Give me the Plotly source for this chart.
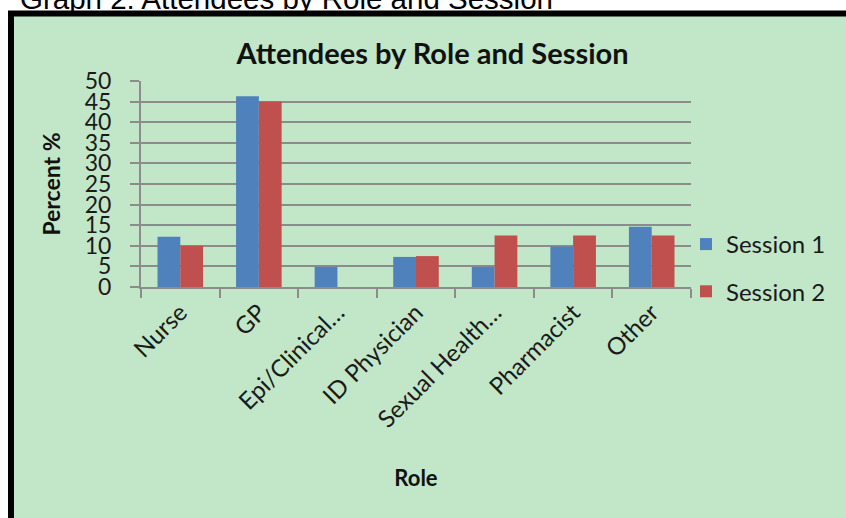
import plotly.graph_objects as go

roles = ["Nurse", "GP", "Epi/Clinical…", "ID Physician", "Sexual Health…", "Pharmacist", "Other"]
session1 = [12.2, 46.3, 4.9, 7.3, 4.9, 9.8, 14.6]
session2 = [10.0, 45.0, 0.0, 7.5, 12.5, 12.5, 12.5]
y_ticks = [0, 5, 10, 15, 20, 25, 30, 35, 40, 45, 50]

FONT = "Lato"
W, H = 846, 518
ML, MR, MT, MB = 141, 155, 81, 231
pw = W - ML - MR
ph = H - MT - MB

def px2x(p):
    return (p - ML) / pw

def px2y(p):
    return (H - MB - p) / ph

fig = go.Figure()
fig.add_trace(go.Bar(x=roles, y=session1, name="Session 1", legendgroup="a",
                     marker=dict(color="#4F81BD", line=dict(width=0))))
fig.add_trace(go.Bar(x=roles, y=session2, name="Session 2", legendgroup="b",
                     marker=dict(color="#C0504D", line=dict(width=0))))

fig.update_layout(
    width=W, height=H,
    margin=dict(l=ML, r=MR, t=MT, b=MB, autoexpand=False),
    paper_bgcolor="white",
    plot_bgcolor="rgba(0,0,0,0)",
    barmode="group",
    bargap=0.42,
    bargroupgap=0,
    font=dict(family=FONT, size=22, color="#1a1a1a"),
    title=dict(text="<b>Attendees by Role and Session</b>", x=432.5 / W, xanchor="center",
               y=1 - 54 / H, yanchor="middle", font=dict(family=FONT, size=29, color="#111")),
    legend=dict(x=px2x(686), xanchor="left", y=px2y(222), yanchor="top",
                font=dict(family=FONT, size=24, color="#1a1a1a"),
                bgcolor="rgba(0,0,0,0)", tracegroupgap=13, itemwidth=30),
    showlegend=True,
)

fig.update_xaxes(
    showline=True, linecolor="#8C8C8C", linewidth=2,
    ticks="outside", ticklen=9, tickcolor="#8C8C8C", tickwidth=2,
    tickson="boundaries", tickangle=-45,
    tickfont=dict(family=FONT, size=24, color="#1a1a1a"),
    title=dict(text="<b>Role</b>", font=dict(family=FONT, size=22, color="#111"), standoff=39),
    showgrid=False,
)
fig.update_yaxes(
    range=[0, 50], tickvals=y_ticks, ticktext=[str(v) for v in y_ticks],
    showline=True, linecolor="#8C8C8C", linewidth=2,
    ticks="outside", ticklen=9, tickcolor="#8C8C8C", tickwidth=2,
    showgrid=True, gridcolor="#8C8C8C", gridwidth=2, zeroline=False,
    tickfont=dict(family=FONT, size=23, color="#1a1a1a"),
    ticklabelstandoff=14,
    title=dict(text="<b>Percent %</b>", font=dict(family=FONT, size=23, color="#111"), standoff=18),
)

# green chart panel with thick black frame (right/bottom edges off-canvas)
fig.add_shape(type="rect", xref="paper", yref="paper", layer="below",
              x0=px2x(11), x1=px2x(W + 20), y0=px2y(H + 20), y1=px2y(13.5),
              fillcolor="#C2E6C8", line=dict(color="black", width=6))

# document caption above the chart (partially clipped at the top)
fig.add_annotation(text="Graph 2: Attendees by Role and Session", xref="paper", yref="paper",
                   x=px2x(18), xanchor="left", y=px2y(-1.5), yanchor="middle", showarrow=False,
                   font=dict(family="Liberation Sans, Arial", size=29.5, color="black"))

fig.write_html("out.html")
